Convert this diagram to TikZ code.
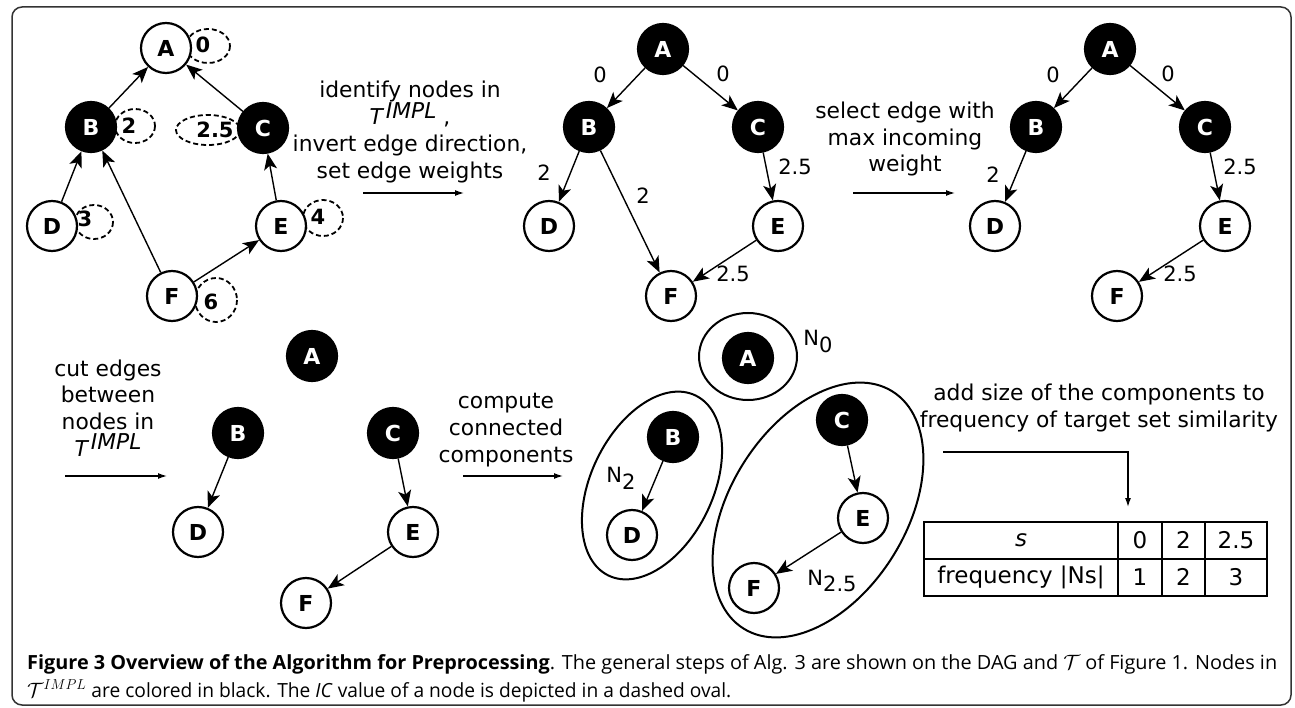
\documentclass[tikz,border=0pt]{standalone}
\usepackage{graphicx}
\usepackage{fontspec}
\setmainfont{DejaVu Sans}
\newfontfamily\capfont{Open Sans}
\usetikzlibrary{arrows.meta}
\setlength{\lineskiplimit}{-20pt}
\newcommand\myTimpl{{\itshape T\hspace{3pt}\raisebox{6.5pt}{IMPL}}}
\begin{document}
\begin{tikzpicture}[x=1pt,y=-1pt,
  nd/.style={circle, minimum size=50pt, inner sep=0pt, line width=2.2pt, draw=black, fill=white, font=\fontsize{22}{22}\selectfont\bfseries},
  bk/.style={nd, fill=black, text=white},
  ed/.style={line width=1.4pt, -{Stealth[length=16pt,width=13pt,inset=4pt]}},
  sa/.style={line width=1.3pt, -{Latex[length=9pt,width=6pt]}},
  dov/.style={line width=1.8pt, dash pattern=on 5pt off 3pt},
  wl/.style={font=\fontsize{21}{21}\selectfont},
  tl/.style={font=\fontsize{23}{23}\selectfont},
  il/.style={font=\fontsize{21}{21}\selectfont\bfseries},
  st/.style={align=center, font=\fontsize{21.8}{26.8}\selectfont},
  cc/.style={line width=2pt},
  captxt/.style={anchor=base west, inner sep=0pt},
]
\useasboundingbox (0,0) rectangle (1295,708);
\draw[line width=1.5pt, draw=black!80, rounded corners=10pt] (12,7) rectangle (1291,705);

% ---------- panel 1 ----------
\draw[dov] (208,46) ellipse [x radius=22, y radius=17];
\draw[dov] (135,126) ellipse [x radius=20, y radius=17];
\draw[dov] (208,130) ellipse [x radius=32, y radius=15];
\draw[dov] (94,222) ellipse [x radius=19, y radius=17];
\draw[dov] (323,218) ellipse [x radius=20, y radius=18];
\draw[dov] (216,300) ellipse [x radius=21, y radius=22];
\node[nd] (p1A) at (166,48) {A};
\node[bk] (p1B) at (91,127) {B};
\node[bk] (p1C) at (263,128) {C};
\node[nd] (p1D) at (52,226) {D};
\node[nd] (p1E) at (281,226) {E};
\node[nd] (p1F) at (172,296) {F};
\node[il] (p1a) at (203,45) {0};
\node[il] (p1b) at (129,126) {2};
\node[il] (p1c) at (215,130) {2.5};
\node[il] (p1d) at (85,219) {3};
\node[il] (p1e) at (318,217) {4};
\node[il] (p1f) at (211,302) {6};
\draw[ed] (p1B) -- (p1A);
\draw[ed] (p1C) -- (p1A);
\draw[ed] (p1D) -- (p1B);
\draw[ed] (p1F) -- (p1B);
\draw[ed] (p1E) -- (p1C);
\draw[ed] (p1F) -- (p1E);

% step 1
\node[st] (s1) at (410,132) {identify nodes in\\ \myTimpl\ ,\\ invert edge direction,\\ set edge weights};
\coordinate (s1a) at (363,193);
\coordinate (s1b) at (464,193);
\draw[sa] (s1a) -- (s1b);

% ---------- panel 2 ----------
\node[bk] (p2A) at (663,49) {A};
\node[bk] (p2B) at (589,127) {B};
\node[bk] (p2C) at (758,127) {C};
\node[nd] (p2D) at (549,226) {D};
\node[nd] (p2E) at (778,226) {E};
\node[nd] (p2F) at (671,296) {F};
\draw[ed] (p2A) -- (p2B);
\draw[ed] (p2A) -- (p2C);
\draw[ed] (p2B) -- (p2D);
\draw[ed] (p2B) -- (p2F);
\draw[ed] (p2C) -- (p2E);
\draw[ed] (p2E) -- (p2F);
\node[wl] (p2l1) at (600,75) {0};
\node[wl] (p2l2) at (723,74) {0};
\node[wl] (p2l3) at (544,173) {2};
\node[wl] (p2l4) at (643,196) {2};
\node[wl] (p2l5) at (795,167) {2.5};
\node[wl] (p2l6) at (733,274) {2.5};

% step 2
\node[st] (s2) at (905,139) {select edge with\\ max incoming\\ weight};
\coordinate (s2a) at (853,193);
\coordinate (s2b) at (955,193);
\draw[sa] (s2a) -- (s2b);

% ---------- panel 3 ----------
\node[bk] (p3A) at (1110,49) {A};
\node[bk] (p3B) at (1036,127) {B};
\node[bk] (p3C) at (1205,127) {C};
\node[nd] (p3D) at (995,226) {D};
\node[nd] (p3E) at (1225,226) {E};
\node[nd] (p3F) at (1117,296) {F};
\draw[ed] (p3A) -- (p3B);
\draw[ed] (p3A) -- (p3C);
\draw[ed] (p3B) -- (p3D);
\draw[ed] (p3C) -- (p3E);
\draw[ed] (p3E) -- (p3F);
\node[wl] (p3l1) at (1053,75) {0};
\node[wl] (p3l2) at (1168,74) {0};
\node[wl] (p3l3) at (993,175) {2};
\node[wl] (p3l5) at (1240,167) {2.5};
\node[wl] (p3l6) at (1180,274) {2.5};

% step 3
\node[st] (s3) at (108,408) {cut edges\\ between\\ nodes in\\ \myTimpl};
\coordinate (s3a) at (65,476);
\coordinate (s3b) at (167,476);
\draw[sa] (s3a) -- (s3b);

% ---------- panel 4 ----------
\node[bk] (p4A) at (312,356) {A};
\node[bk] (p4B) at (238,433) {B};
\node[bk] (p4C) at (393,433) {C};
\node[nd] (p4D) at (198,532) {D};
\node[nd] (p4E) at (413,532) {E};
\node[nd] (p4F) at (306,603) {F};
\draw[ed] (p4B) -- (p4D);
\draw[ed] (p4C) -- (p4E);
\draw[ed] (p4E) -- (p4F);

% step 4
\node[st] (s4) at (506,430) {compute\\ connected\\ components};
\coordinate (s4a) at (463,476);
\coordinate (s4b) at (563,476);
\draw[sa] (s4a) -- (s4b);

% ---------- panel 5 ----------
\draw[cc] (748,356.5) ellipse [x radius=49, y radius=43.5];
\draw[cc, rotate around={64.2:(652,485.5)}] (652,485.5) ellipse [x radius=100, y radius=61];
\draw[cc, rotate around={57.8:(818,510)}] (818,510) ellipse [x radius=140, y radius=88];
\node[bk] (p5A) at (748,358) {A};
\node[bk] (p5B) at (673,437) {B};
\node[bk] (p5C) at (842,420) {C};
\node[nd] (p5D) at (632,535) {D};
\node[nd] (p5E) at (863,518) {E};
\node[nd] (p5F) at (754,588) {F};
\draw[ed] (p5B) -- (p5D);
\draw[ed] (p5C) -- (p5E);
\draw[ed] (p5E) -- (p5F);
\node[wl] (n0) at (818,341) {N\raisebox{-7pt}{0}};
\node[wl] (n2) at (621,478) {N\raisebox{-7pt}{2}};
\node[wl] (n25) at (832,581) {N\raisebox{-6pt}{2.5}};

% step 5
\node[st] (s5) at (1099,408) {add size of the components to\\ frequency of target set similarity};
\coordinate (s5a) at (943,452);
\coordinate (s5b) at (1128,507);
\draw[sa] (s5a) -| (s5b);

% table
\draw[line width=1.5pt] (924,522) rectangle (1267,596);
\draw[line width=1.5pt] (924,559) -- (1267,559);
\draw[line width=1.5pt] (1118,522) -- (1118,596);
\draw[line width=1.5pt] (1162,522) -- (1162,596);
\draw[line width=1.5pt] (1205,522) -- (1205,596);
\node[tl] (t11) at (1021,540) {\itshape s};
\node[tl] (t12) at (1140,540) {0};
\node[tl] (t13) at (1183.5,540) {2};
\node[tl] (t14) at (1236,540) {2.5};
\node[tl] (t21) at (1021,577) {frequency |Ns|};
\node[tl] (t22) at (1140,577) {1};
\node[tl] (t23) at (1183.5,577) {2};
\node[tl] (t24) at (1236,577) {3};

% caption
\node[captxt] (cap1) at (27,669) {\capfont\fontsize{19.5}{19.5}\selectfont\resizebox{1250pt}{\height}{\textbf{Figure 3 Overview of the Algorithm for Preprocessing}. The general steps of Alg. 3 are shown on the DAG and $\mathcal{T}$ of Figure 1. Nodes in}};
\node[captxt] (cap2) at (27,697) {\capfont\fontsize{19.5}{19.5}\selectfont\resizebox{704pt}{\height}{$\mathcal{T}^{IMPL}$ are colored in black. The \textit{IC} value of a node is depicted in a dashed oval.}};
\end{tikzpicture}
\end{document}
